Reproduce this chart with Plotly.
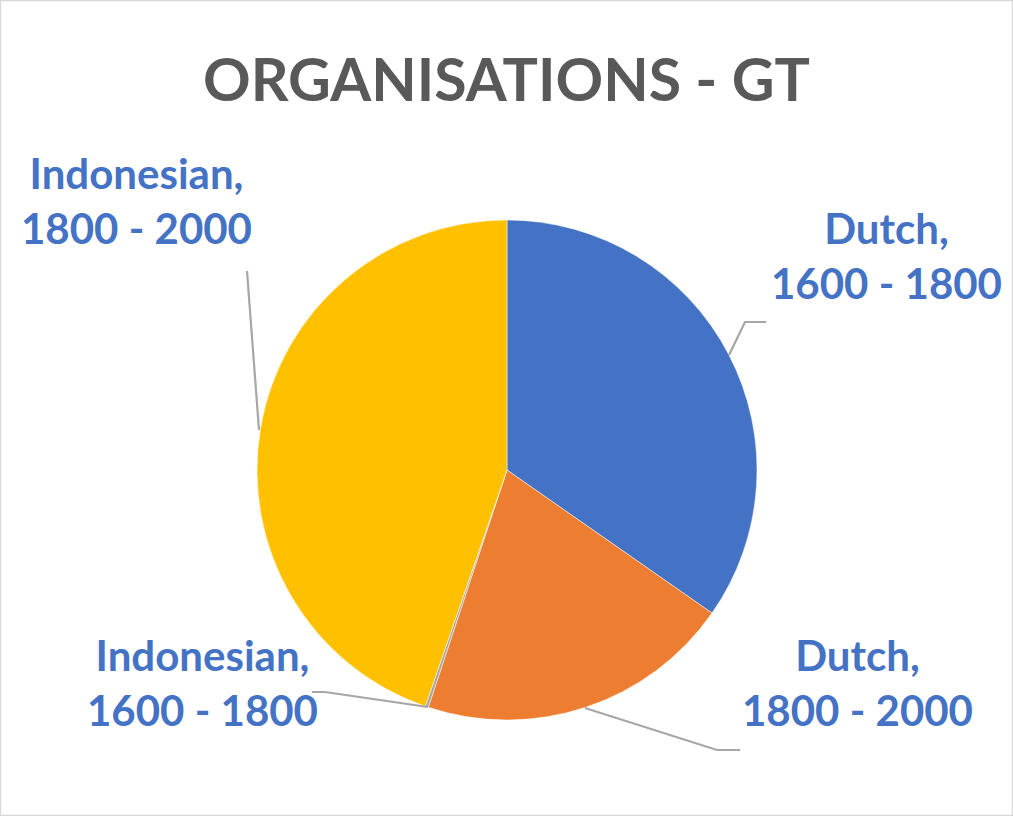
import plotly.graph_objects as go

W, H = 1013, 816

categories = ["Dutch, 1600 - 1800", "Dutch, 1800 - 2000", "Indonesian, 1600 - 1800", "Indonesian, 1800 - 2000"]
values = [34.7, 20.4, 0.2, 44.7]
colors = ["#4472C4", "#ED7D31", "#A5A5A5", "#FFC000"]
label_lines = [("Dutch,", "1600 - 1800"), ("Dutch,", "1800 - 2000"),
               ("Indonesian,", "1600 - 1800"), ("Indonesian,", "1800 - 2000")]
title_text = "ORGANISATIONS - GT"

# pixel helpers
def px(x):
    return x / W

def py(y):
    return 1 - y / H

cx, cy, r = 507, 470, 250

fig = go.Figure(go.Pie(
    labels=categories,
    values=values,
    marker=dict(colors=colors, line=dict(color="#FFFFFF", width=0.5)),
    sort=False,
    direction="clockwise",
    rotation=0,
    textinfo="none",
    hoverinfo="label+value",
    showlegend=False,
    domain=dict(x=[px(cx - r), px(cx + r)], y=[py(cy + r), py(cy - r)]),
))

label_pos = [(886, 255), (857, 682), (202, 682), (136, 200)]
font_lbl = dict(family="Lato", size=42, color="#4472C4")
annotations = []
for (l1, l2), (x, y) in zip(label_lines, label_pos):
    annotations.append(dict(
        x=px(x), y=py(y), xref="paper", yref="paper",
        text="<b>" + l1 + "<br>" + l2 + "</b>", showarrow=False,
        font=font_lbl, align="center", xanchor="center", yanchor="middle"))
annotations.append(dict(
    x=px(506), y=py(78), xref="paper", yref="paper",
    text="<b>" + title_text + "</b>", showarrow=False,
    font=dict(family="Lato", size=59, color="#595959"),
    xanchor="center", yanchor="middle"))

leaders = [
    [(729, 355), (745, 322), (766, 322)],
    [(585, 708), (717, 750), (740, 750)],
    [(428, 707), (325, 692), (312, 692)],
    [(259, 430), (247, 271)],
]
shapes = []
for pts in leaders:
    path = "M " + " L ".join(f"{px(x)},{py(y)}" for x, y in pts)
    shapes.append(dict(type="path", xref="paper", yref="paper", path=path,
                       line=dict(color="#A6A6A6", width=2.2)))
shapes.append(dict(type="rect", xref="paper", yref="paper", x0=0.0005, y0=0.0005, x1=0.9995, y1=0.9995,
                   line=dict(color="#D9D9D9", width=1.5)))

fig.update_layout(
    width=W, height=H,
    margin=dict(l=0, r=0, t=0, b=0),
    paper_bgcolor="white", plot_bgcolor="white",
    annotations=annotations, shapes=shapes,
)

fig.write_html("out.html", config={"displayModeBar": False},
               post_script="document.body.style.margin='0';document.body.style.overflow='hidden';")
